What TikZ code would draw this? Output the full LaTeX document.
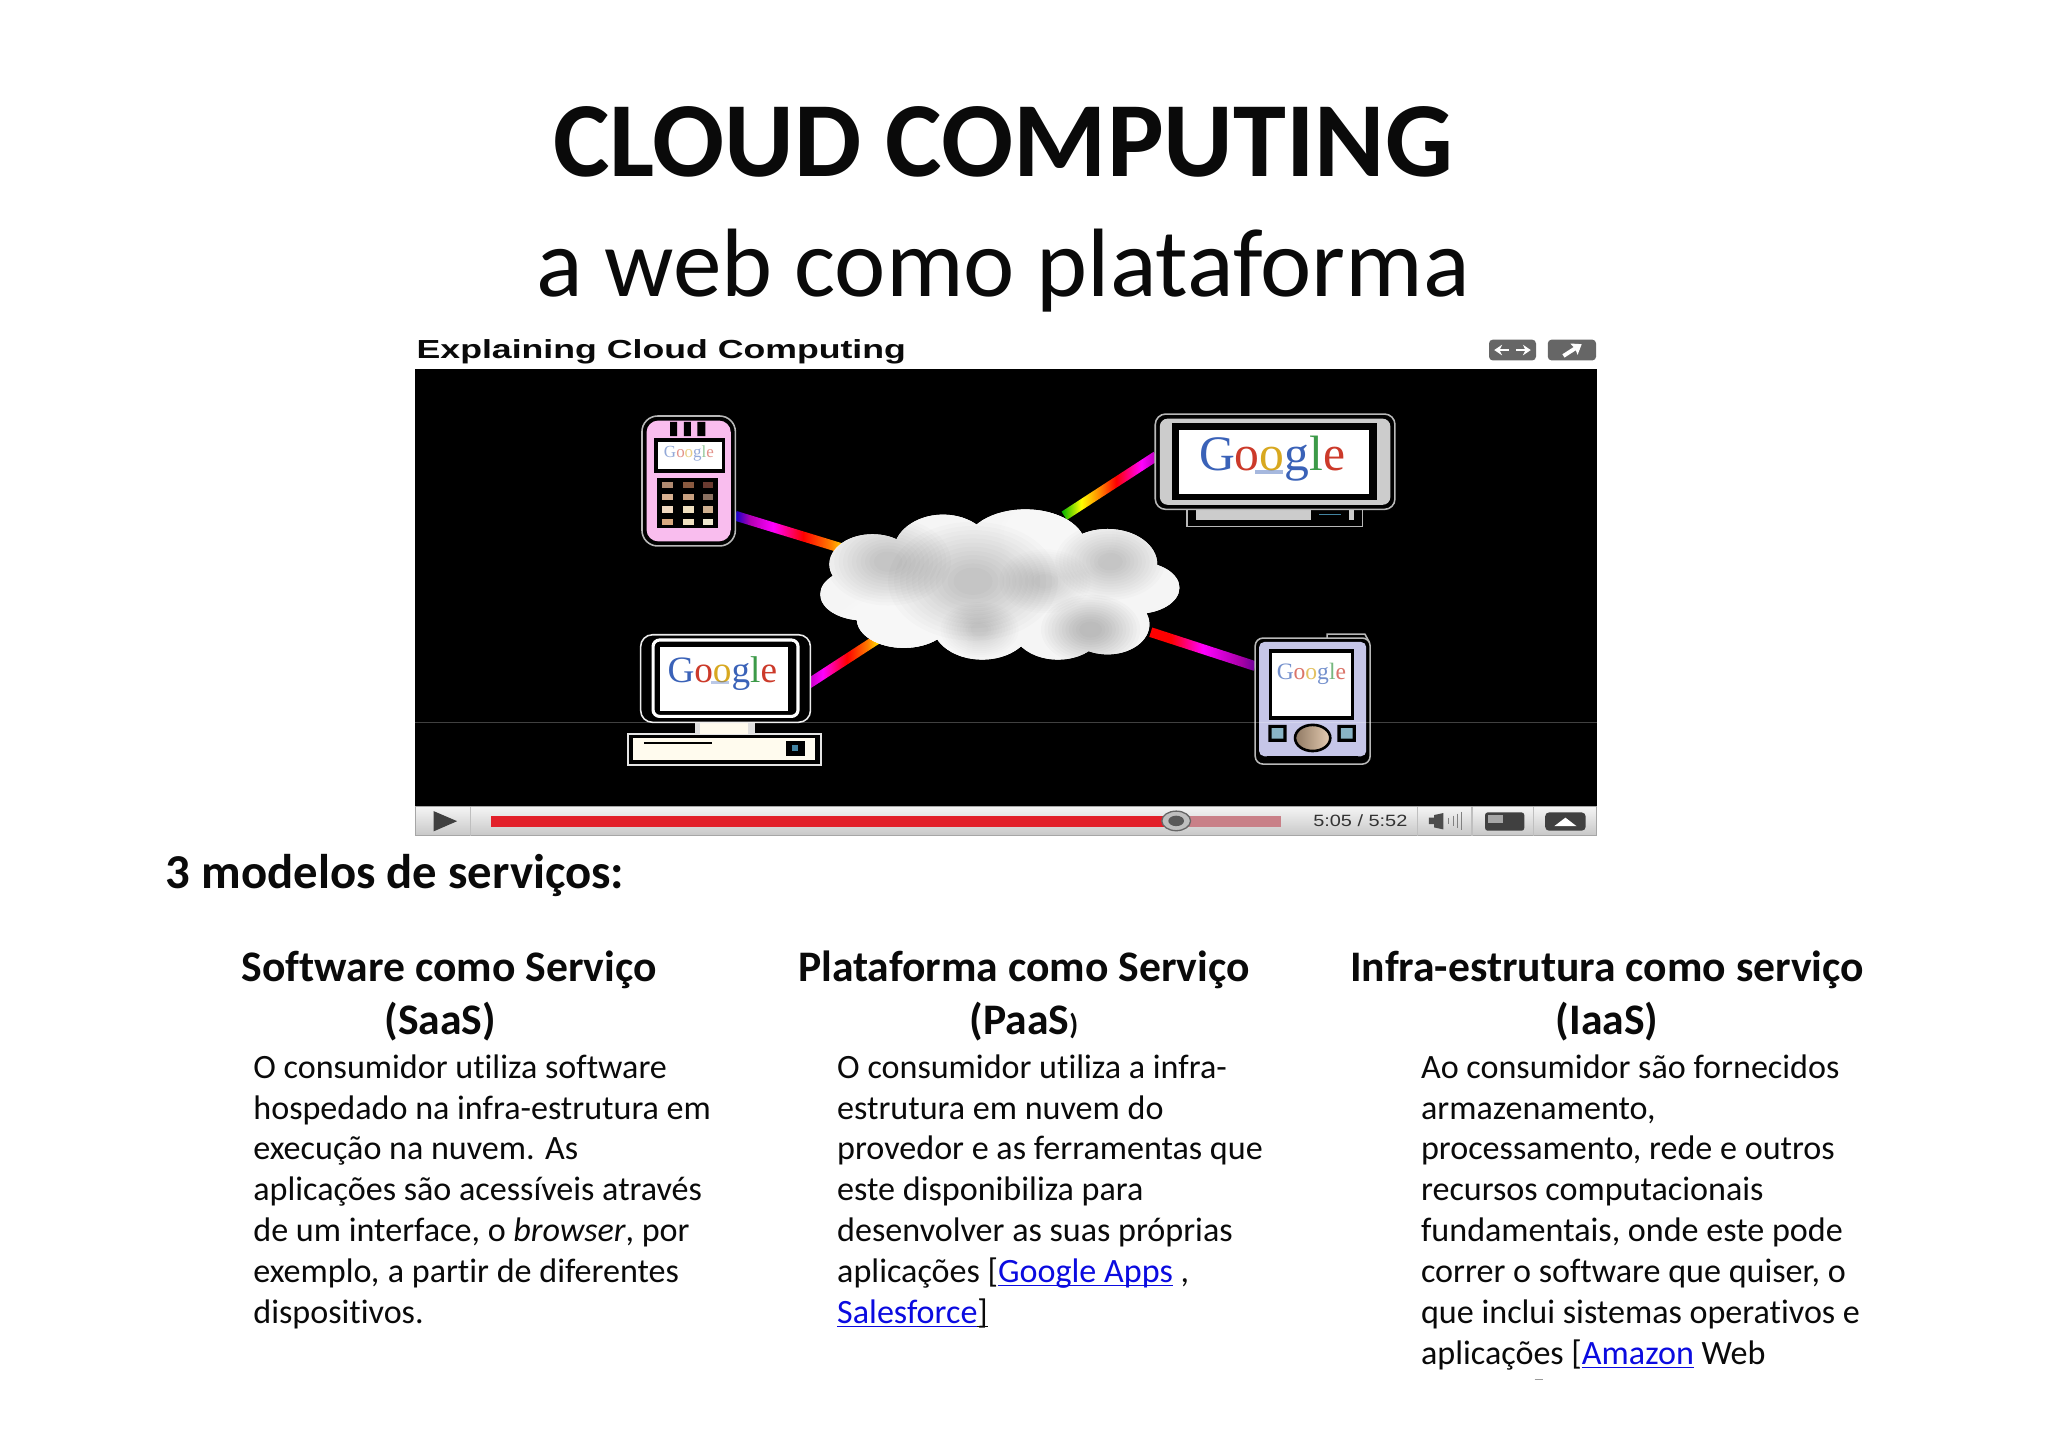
\documentclass[tikz,border=0pt]{standalone}
\usepackage{fontspec}
\setmainfont{Carlito}[RawFeature={-liga;-clig;-dlig}]
\newfontfamily\gfont{Liberation Serif}
\newfontfamily\afont{Liberation Sans}
\usetikzlibrary{arrows.meta,calc}
\definecolor{ink}{HTML}{0A0A0A}
\definecolor{linkblue}{HTML}{0B0BE0}
\definecolor{pinkdev}{HTML}{F9BDEE}
\definecolor{lav}{HTML}{C6C6E8}
\definecolor{btn}{HTML}{666666}
\definecolor{cream}{HTML}{FFFBEE}
\definecolor{barpink}{HTML}{C98088}
\definecolor{barred}{HTML}{E2202A}
\definecolor{gB}{HTML}{3A62B8}\definecolor{gR}{HTML}{CC3A2A}\definecolor{gY}{HTML}{D8A820}\definecolor{gG}{HTML}{3C9A48}
\newcommand{\goog}{{\gfont\textcolor{gB}{G}\textcolor{gR}{o}\textcolor{gY}{o}\textcolor{gB}{g}\textcolor{gG}{l}\textcolor{gR}{e}}}
\newcommand{\ulk}[1]{\leavevmode\setbox0\hbox{#1}\rlap{\rule[-3pt]{\wd0}{1.3pt}}\box0}
\pgfdeclarehorizontalshading{rbA}{100bp}{color(0bp)=(blue!80!black);color(25bp)=(blue!80!black);color(32bp)=(violet!60!magenta);color(42bp)=(magenta);color(55bp)=(red);color(67bp)=(orange);color(75bp)=(yellow);color(100bp)=(yellow)}
\pgfdeclarehorizontalshading{rbB}{100bp}{color(0bp)=(green!70!black);color(25bp)=(green!70!black);color(35bp)=(yellow);color(45bp)=(orange);color(53bp)=(red);color(66bp)=(magenta);color(75bp)=(violet!70!magenta);color(100bp)=(violet!70!magenta)}
\pgfdeclarehorizontalshading{rbC}{100bp}{color(0bp)=(violet!60!magenta);color(25bp)=(violet!60!magenta);color(36bp)=(magenta);color(52bp)=(red);color(66bp)=(orange);color(75bp)=(yellow);color(100bp)=(yellow)}
\pgfdeclarehorizontalshading{rbD}{100bp}{color(0bp)=(red);color(25bp)=(red);color(35bp)=(red);color(50bp)=(magenta);color(68bp)=(violet!70!magenta);color(75bp)=(violet!80!blue);color(100bp)=(violet!80!blue)}
\tikzset{
  x=1pt,y=-1pt,
  every node/.style={inner sep=0pt,outer sep=0pt,text=ink},
  titleA/.style={font=\fontsize{81.7}{90}\selectfont\bfseries,anchor=base},
  titleB/.style={font=\fontsize{74.4}{90}\selectfont,anchor=base},
  head/.style={font=\fontsize{33.4}{40}\selectfont\bfseries,anchor=base},
  body/.style={font=\fontsize{26.1}{31.3}\selectfont,align=left,anchor=north west},
  beam/.style={minimum height=7.5pt,draw=none},
  devline/.style={draw=black!28,line width=1.2pt,fill=black},
}
\newcommand{\blob}[5][black]{\foreach \k in {1.0,.93,.86,.79,.72,.65,.58,.51,.44,.37,.3,.23}{\fill[#1,fill opacity=#5] (#2,#3) ellipse [x radius=\k*#4,y radius=\k*#4*.7];}}
\newcommand{\cloudshape}{(668,432) ellipse [x radius=33,y radius=23] (722,423) ellipse [x radius=38,y radius=29] (785,418) ellipse [x radius=46,y radius=28] (848,432) ellipse [x radius=38,y radius=27] (870,450) ellipse [x radius=33,y radius=20] (848,478) ellipse [x radius=32,y radius=23] (810,480) ellipse [x radius=35,y radius=25] (752,478) ellipse [x radius=38,y radius=27] (692,474) ellipse [x radius=36,y radius=22] (661,455) ellipse [x radius=33,y radius=20] (765,450) ellipse [x radius=100,y radius=36]}
\begin{document}
\begin{tikzpicture}
\useasboundingbox (0,0) rectangle (1568,1108);
\fill[white] (0,0) rectangle (1568,1108);
% titles
\node[titleA] (t1) at (768,135) {CLOUD COMPUTING};
\node[titleB] (t2) at (768,227) {a web como plataforma};
% video header
\node[anchor=base west,font=\afont\bfseries\fontsize{20}{22}\selectfont,xscale=1.365] (vt) at (319,274.5) {Explaining Cloud Computing};
\fill[btn,rounded corners=3pt] (1140,260) rectangle (1176,276);
\draw[white,line width=2pt,-{Stealth[length=6pt,width=8pt]}] (1155,268) -- (1144,268);
\draw[white,line width=2pt,-{Stealth[length=6pt,width=8pt]}] (1161,268) -- (1172,268);
\fill[btn,rounded corners=3pt] (1185,260) rectangle (1222,276);
\draw[white,line width=3pt,-{Stealth[length=7pt,width=10pt,inset=1pt]}] (1197,272.5) -- (1211,263.5);
% video frame
\fill[black] (318,282.5) rectangle (1222.5,617.5);
% beams
\node[beam,shading=rbA,rotate=-17,minimum width=90pt] (b1) at (606,408) {};
\node[beam,shading=rbB,rotate=33,minimum width=84pt] (b2) at (850,372) {};
\node[beam,shading=rbC,rotate=33,minimum width=64pt] (b3) at (646,506) {};
\node[beam,shading=rbD,rotate=-18,minimum width=84pt] (b4) at (921,497) {};
% cloud
\fill[white] \cloudshape;
\begin{scope}
\clip \cloudshape;
\fill[black!4] (620,385) rectangle (910,510);
\blob[white]{690}{490}{55}{.12}
\blob[white]{810}{410}{45}{.12}
\blob{680}{430}{48}{.014}
\blob{745}{445}{65}{.016}
\blob{850}{430}{42}{.014}
\blob{835}{482}{38}{.02}
\blob{750}{482}{30}{.012}
\blob{800}{445}{35}{.01}
\end{scope}
% phone
\draw[devline,rounded corners=12pt] (491.5,318.5) rectangle (563,418);
\fill[pinkdev,rounded corners=9pt] (495,322) rectangle (559.5,414.5);
\fill[black] (513,323) rectangle (518.5,334) (523.5,323) rectangle (529,334) (534,323) rectangle (540,334);
\fill[black] (501,335.5) rectangle (555,362);
\fill[white] (503.5,338.5) rectangle (552.5,359);
\node[font=\fontsize{13}{13}\selectfont,opacity=.55] (gphone) at (527.5,347.5) {\goog};
\fill[black] (503,366) rectangle (550,404.5);
\foreach \px/\cA/\cB/\cC/\cD in {511/B08A70/D8B090/F0D8C0/D8A880,527/8A5A40/C8A080/F0E0C0/F0E0C0,542/6A3A30/8A7060/D0B090/F0E8D0}{
  \definecolor{kA}{HTML}{\cA}\definecolor{kB}{HTML}{\cB}\definecolor{kC}{HTML}{\cC}\definecolor{kD}{HTML}{\cD}
  \fill[kA] (\px-4,369) rectangle (\px+4,374);
  \fill[kB] (\px-4,378) rectangle (\px+4,383);
  \fill[kC] (\px-4,387.5) rectangle (\px+4,392.5);
  \fill[kD] (\px-4,397) rectangle (\px+4,402);
}
% wide monitor
\draw[draw=black!28,line width=1.2pt,fill=black] (909,388) rectangle (1043,403);
\fill[black!20] (916,390) rectangle (1004,398.5);
\draw[cyan!60!black,line width=1.2pt] (1010,394) -- (1027,394);
\fill[black!20] (1033,390) rectangle (1037,398.5);
\draw[devline,rounded corners=8pt] (884.5,317) rectangle (1068,390);
\fill[black!20,rounded corners=6pt] (888,320.5) rectangle (1064.5,386.5);
\fill[black] (897,324) rectangle (1054,383);
\fill[white] (903,329) rectangle (1048,378);
\node[font=\fontsize{38}{38}\selectfont] (gwide) at (974,351) {\goog};
\fill[gB,opacity=.45] (961,360) rectangle (982,363);
% desktop
\draw[fill=black,draw=black!10,line width=1.2pt] (481,562) rectangle (628.5,585.5);
\fill[cream] (485,565) rectangle (624,582);
\draw[black,line width=1.8pt] (493,569) -- (545,569);
\fill[black] (602,567) rectangle (616,579);
\fill[cyan!60!black] (606,570.5) rectangle (611,575);
\fill[black!12] (532,550) rectangle (578,562);
\fill[cream] (536,552) rectangle (573,562);
\draw[devline,draw=black!8,rounded corners=9pt] (490.5,486) rectangle (620.5,553);
\draw[draw=white,line width=2.4pt,rounded corners=5pt] (500,490) rectangle (611,548.5);
\fill[white] (505.5,495.5) rectangle (603.5,544);
\node[font=\fontsize{28.5}{28.5}\selectfont] (gdesk) at (553,516) {\goog};
\fill[gB,opacity=.35] (544,521.5) rectangle (558,524);
% PDA
\draw[devline] (1016,485.5) -- (1045,485.5) -- (1048,491) -- (1016,491) -- cycle;
\draw[devline,rounded corners=6pt] (961,488.5) rectangle (1049,585);
\fill[lav,rounded corners=4pt] (964,491.5) rectangle (1046,579);
\fill[black] (971.5,497) rectangle (1037,551);
\fill[white] (974,500) rectangle (1034.5,548.5);
\node[font=\fontsize{18}{18}\selectfont,opacity=.7] (gpda) at (1004,516) {\goog};
\fill[black] (971,555) rectangle (985,568) (1024,555) rectangle (1038,568);
\fill[cyan!40!gray!80] (973.5,557.5) rectangle (982.5,565.5) (1026.5,557.5) rectangle (1035.5,565.5);
\shade[left color=brown!50!black!70,right color=brown!40!white,draw=black,line width=2pt] (1005,565) ellipse [x radius=13.5,y radius=10];
\fill[black] (970,579) rectangle (1040,583);
% scan line
\draw[white,opacity=.25,line width=.7pt] (318,553.5) -- (1222.5,553.5);
% control bar
\shade[top color=black!4,bottom color=black!22] (318,617.5) rectangle (1222.5,640);
\draw[black!35,line width=.8pt] (318,617.5) rectangle (1222.5,640);
\fill[black!75] (332,621) -- (350,628.7) -- (332,636.5) -- cycle;
\foreach \sx in {360,1085,1127,1174}{\draw[black!25,line width=.8pt] (\sx,618) -- (\sx,640);}
\fill[barpink] (890,625) rectangle (980.5,633);
\fill[barred] (376,625) rectangle (900,633);
\draw[black!60,fill=black!25,line width=1pt] (900.5,628.5) ellipse [x radius=11,y radius=7.5];
\fill[black!65] (900.5,628.5) ellipse [x radius=6,y radius=4];
\node[font=\afont\fontsize{12.5}{14}\selectfont,xscale=1.22,text=black!80] (time) at (1041.5,628.5) {5:05 / 5:52};
\fill[black!70] (1094,626) rectangle (1098,631) (1098,624) -- (1105,622.5) -- (1105,635) -- (1098,633.5) -- cycle;
\foreach \sx in {1109,1113,1116,1119}{\draw[black!50,line width=.8pt] (\sx,{628.5-(\sx-1105)*.5}) -- (\sx,{628.5+(\sx-1105)*.5});}
\fill[black!75,rounded corners=2pt] (1137,622) rectangle (1167,636);
\fill[black!35] (1139,624) rectangle (1151,630);
\fill[black!75,rounded corners=3pt] (1183,622) rectangle (1214,636);
\fill[white] (1190,632.5) -- (1198.5,626) -- (1207,632.5) -- cycle;
% text
\node[head,anchor=base west,font=\fontsize{37.3}{40}\selectfont\bfseries] (m) at (127,680) {3 modelos de serviços:};
\node[head] (h1) at (344,751.5) {Software como Serviço};
\node[head] (h1b) at (337,792) {(SaaS)};
\node[head] (h2) at (784,751.5) {Plataforma como Serviço};
\node[head] (h2b) at (784,792) {(PaaS{\fontsize{22}{22}\selectfont)}};
\node[head] (h3) at (1230.5,751.5) {Infra-estrutura como serviço};
\node[head] (h3b) at (1230.5,792) {(IaaS)};
\node[body] (p1) at (194,807.3) {O consumidor utiliza software\\hospedado na infra-estrutura em\\execução na nuvem. As\\aplicações são acessíveis através\\de um interface, o \textit{browser}, por\\exemplo\textit{,} a partir de diferentes\\dispositivos.};
\node[body] (p2) at (641,807.3) {O consumidor utiliza a infra-\\estrutura em nuvem do\\provedor e as ferramentas que\\este disponibiliza para\\desenvolver as suas próprias\\aplicações [\textcolor{linkblue}{\ulk{Google Apps}} ,\\\textcolor{linkblue}{\ulk{Salesforce}}\ulk{]}};
\node[body] (p3) at (1088,807.3) {Ao consumidor são fornecidos\\armazenamento,\\processamento, rede e outros\\recursos computacionais\\fundamentais, onde este pode\\correr o software que quiser, o\\que inclui sistemas operativos e\\aplicações [\textcolor{linkblue}{\ulk{Amazon}} Web};
\draw[black!40,line width=.8pt] (1175,1056.5) -- (1181,1056.5);
\end{tikzpicture}
\end{document}
